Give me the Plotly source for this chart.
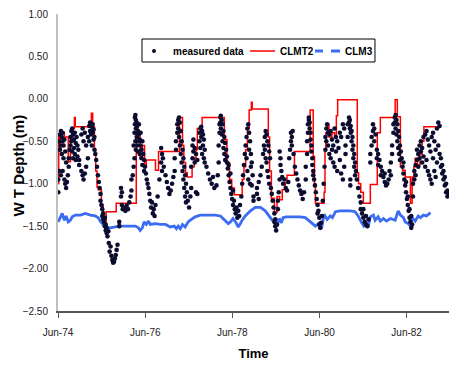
import plotly.graph_objects as go
from datetime import datetime

# ---------------- data (decimal year, water-table depth in m) ----------------
meas_1974_75 = [
    (1974.42, -1.10, -0.95), (1974.44, -0.85, -0.50), (1974.46, -0.42, -0.60),
    (1974.48, -0.38, -0.55, -0.90), (1974.50, -0.45, -0.65), (1974.52, -0.40, -0.50, -0.85),
    (1974.54, -0.55, -0.70), (1974.56, -0.48, -0.95), (1974.58, -0.62, -1.00),
    (1974.60, -0.75, -1.05), (1974.62, -0.98), (1974.64, -0.90), (1974.66, -0.70, -0.80),
    (1974.68, -0.60), (1974.70, -0.45, -0.55), (1974.72, -0.38, -0.50), (1974.74, -0.35, -0.62),
    (1974.76, -0.42, -0.70), (1974.78, -0.48, -0.58), (1974.80, -0.40, -0.65),
    (1974.82, -0.52, -0.72), (1974.84, -0.45), (1974.86, -0.55, -0.68), (1974.88, -0.60),
    (1974.90, -0.72, -0.78), (1974.95, -0.42, -0.85), (1974.98, -0.35, -0.90),
    (1975.00, -0.50, -0.95), (1975.03, -0.40, -0.88), (1975.06, -0.55, -0.80),
    (1975.10, -0.70, -0.45), (1975.13, -0.32, -0.50), (1975.15, -0.28, -0.38),
    (1975.17, -0.30, -0.42), (1975.19, -0.33, -0.55), (1975.21, -0.30, -0.40),
    (1975.23, -0.36, -0.48), (1975.25, -0.45, -0.60), (1975.27, -0.65), (1975.29, -0.72),
    (1975.31, -0.80), (1975.33, -0.90), (1975.35, -0.98), (1975.37, -1.05),
    (1975.39, -1.12, -1.20), (1975.41, -1.25), (1975.43, -1.30, -1.38), (1975.45, -1.35, -1.42),
    (1975.47, -1.45), (1975.49, -1.40, -1.50), (1975.51, -1.48, -1.55), (1975.53, -1.52, -1.58),
    (1975.55, -1.62), (1975.57, -1.56),
]
meas_1975_76 = [
    (1975.58, -1.70), (1975.60, -1.80), (1975.62, -1.74), (1975.64, -1.85), (1975.66, -1.90),
    (1975.68, -1.93), (1975.70, -1.92), (1975.72, -1.88), (1975.74, -1.84), (1975.76, -1.78),
    (1975.78, -1.72), (1975.82, -1.50, -1.45), (1975.86, -1.05, -1.15), (1975.88, -1.25, -1.10),
    (1975.90, -1.30), (1975.93, -1.28), (1975.96, -1.32), (1975.99, -1.26), (1976.02, -1.30),
    (1976.05, -1.22), (1976.08, -1.15), (1976.10, -1.08, -0.95), (1976.13, -0.90),
    (1976.15, -0.80, -0.55), (1976.17, -0.40, -0.70), (1976.18, -0.22, -0.30),
    (1976.19, -0.19, -0.50), (1976.20, -0.25, -0.35, -0.60), (1976.22, -0.28, -0.45),
    (1976.23, -0.32, -0.55, -0.40), (1976.25, -0.38, -0.62), (1976.27, -0.42, -0.50, -0.30),
    (1976.29, -0.48, -0.65), (1976.31, -0.55, -0.40), (1976.33, -0.60, -0.70),
    (1976.35, -0.50, -0.78), (1976.37, -0.65), (1976.39, -0.72, -0.85), (1976.41, -0.80),
    (1976.43, -0.88), (1976.45, -0.95), (1976.47, -1.00), (1976.49, -1.05), (1976.51, -1.12),
    (1976.53, -1.20), (1976.55, -1.28), (1976.57, -1.22), (1976.59, -1.35), (1976.61, -1.30),
    (1976.63, -1.38), (1976.65, -1.25),
]
meas_1976_77 = [
    (1976.70, -1.15), (1976.74, -0.95), (1976.78, -0.58, -0.75), (1976.80, -0.65, -0.85),
    (1976.82, -0.70), (1976.84, -0.80), (1976.88, -0.90), (1976.91, -0.98), (1976.94, -1.05),
    (1976.97, -1.12), (1977.00, -1.08), (1977.03, -1.00), (1977.06, -0.92),
    (1977.09, -0.85, -0.70), (1977.12, -0.60, -0.50), (1977.15, -0.40, -0.30),
    (1977.17, -0.25, -0.35), (1977.19, -0.22, -0.45), (1977.21, -0.28, -0.55),
    (1977.23, -0.38, -0.65), (1977.25, -0.50, -0.75), (1977.27, -0.60, -0.85),
    (1977.29, -0.70, -0.95), (1977.31, -0.80, -1.05), (1977.33, -0.90, -1.15),
    (1977.35, -1.00, -1.22), (1977.37, -1.10), (1977.39, -1.20), (1977.42, -1.28),
    (1977.45, -1.15), (1977.47, -0.80, -1.05), (1977.50, -0.55, -0.70), (1977.52, -0.48, -0.62),
    (1977.55, -0.58, -0.75), (1977.58, -0.65, -1.10), (1977.61, -0.72, -1.12),
]
meas_1977_78 = [
    (1977.66, -0.40, -0.50), (1977.68, -0.35, -0.58), (1977.70, -0.33, -0.45),
    (1977.72, -0.38, -0.65), (1977.74, -0.42, -0.55), (1977.76, -0.48, -0.70),
    (1977.78, -0.60, -0.75), (1977.82, -0.80), (1977.86, -0.88), (1977.90, -0.95),
    (1977.94, -1.00), (1977.97, -0.92), (1978.00, -1.05), (1978.05, -1.02), (1978.08, -0.90),
    (1978.10, -0.75, -0.55), (1978.12, -0.40, -0.30), (1978.14, -0.22, -0.28),
    (1978.15, -0.20, -0.35), (1978.17, -0.25, -0.42), (1978.19, -0.30, -0.50),
    (1978.21, -0.38, -0.58), (1978.23, -0.45, -0.65), (1978.25, -0.52, -0.72), (1978.27, -0.60),
    (1978.29, -0.75, -0.68), (1978.31, -0.82), (1978.33, -0.90, -0.78), (1978.35, -0.98),
    (1978.37, -1.05, -0.88), (1978.39, -1.12), (1978.41, -1.18), (1978.43, -1.25, -1.08),
    (1978.45, -1.20), (1978.47, -1.30), (1978.49, -1.35), (1978.51, -1.28), (1978.53, -1.40),
    (1978.55, -1.32), (1978.57, -1.38), (1978.59, -1.25), (1978.62, -1.15), (1978.64, -1.00),
    (1978.66, -0.90), (1978.68, -0.78), (1978.70, -0.65), (1978.72, -0.55),
    (1978.74, -0.45, -0.70), (1978.76, -0.35, -0.85), (1978.78, -0.30, -0.95),
    (1978.80, -0.40, -0.60), (1978.82, -0.50, -1.00), (1978.84, -0.65, -0.80),
    (1978.86, -0.75, -1.02), (1978.88, -0.90), (1978.90, -1.15, -1.20),
    (1978.98, -1.05, -1.12), (1979.02, -1.18, -0.98),
]
meas_1979_80 = [
    (1979.06, -0.90), (1979.09, -0.80), (1979.12, -0.65), (1979.14, -0.55),
    (1979.16, -0.45, -0.60), (1979.18, -0.38, -0.70), (1979.20, -0.42, -0.75),
    (1979.22, -0.50, -0.85), (1979.24, -0.55, -0.92), (1979.26, -0.62, -1.00), (1979.28, -0.70),
    (1979.30, -1.05), (1979.32, -1.12), (1979.34, -1.20), (1979.36, -1.28),
    (1979.38, -1.35, -1.45), (1979.40, -1.50, -1.42), (1979.42, -1.55), (1979.44, -1.48),
    (1979.46, -1.30, -1.20), (1979.48, -1.10), (1979.50, -0.95, -0.62), (1979.52, -0.70, -0.78),
    (1979.54, -0.85), (1979.56, -0.92), (1979.58, -1.00), (1979.61, -0.95), (1979.64, -1.05),
    (1979.67, -1.08), (1979.70, -0.98), (1979.72, -0.70), (1979.74, -0.60),
    (1979.76, -0.50, -0.40), (1979.78, -0.45, -0.55), (1979.80, -0.38), (1979.82, -0.65),
    (1979.85, -0.80), (1979.88, -0.88), (1979.91, -0.95), (1979.94, -1.02), (1979.97, -1.08),
    (1980.00, -1.12), (1980.03, -1.18), (1980.06, -1.10),
]
meas_1980_81 = [
    (1980.10, -0.95, -0.80), (1980.13, -0.65, -0.50), (1980.15, -0.40, -0.30),
    (1980.17, -0.25, -0.22), (1980.19, -0.28, -0.35), (1980.21, -0.40, -0.48),
    (1980.23, -0.55, -0.62), (1980.25, -0.70, -0.78), (1980.27, -0.85, -0.90), (1980.29, -0.95),
    (1980.31, -1.02), (1980.33, -1.10), (1980.35, -1.18), (1980.37, -1.25, -1.35),
    (1980.39, -1.32), (1980.41, -1.40, -1.48), (1980.43, -1.52), (1980.45, -1.46),
    (1980.47, -1.38), (1980.49, -1.20), (1980.51, -1.00), (1980.53, -0.80),
    (1980.55, -0.60, -0.45), (1980.57, -0.35, -0.50), (1980.59, -0.30), (1980.61, -0.40, -0.55),
    (1980.64, -0.42, -0.65), (1980.67, -0.38, -0.70), (1980.70, -0.48, -0.60),
    (1980.73, -0.55, -0.75), (1980.76, -0.35, -0.80), (1980.79, -0.45, -0.62),
    (1980.82, -0.50, -0.85), (1980.85, -0.58), (1980.88, -0.40, -0.72), (1980.91, -0.45, -0.88),
    (1980.95, -0.30, -0.95), (1980.98, -0.35, -0.80), (1981.01, -0.55, -0.65),
    (1981.06, -0.30, -0.45), (1981.09, -0.22, -0.28), (1981.11, -0.25, -0.35),
    (1981.12, -0.95, -1.02), (1981.13, -0.32, -0.40), (1981.15, -0.38, -0.50),
    (1981.17, -0.45, -0.60), (1981.19, -0.55, -0.70), (1981.21, -0.65, -0.80),
    (1981.23, -0.75, -0.90), (1981.25, -0.85), (1981.27, -0.95), (1981.30, -1.05),
    (1981.33, -1.15), (1981.36, -1.22, -1.30), (1981.39, -1.35), (1981.42, -1.40, -1.30),
    (1981.45, -1.45), (1981.48, -1.48, -1.38), (1981.51, -1.50), (1981.54, -1.42),
]
meas_1981_83 = [
    (1981.58, -0.75, -0.65), (1981.61, -0.55, -0.45), (1981.64, -0.38, -0.30),
    (1981.67, -0.35, -0.50), (1981.70, -0.42), (1981.73, -0.60, -0.70), (1981.76, -0.65, -0.78),
    (1981.79, -0.72), (1981.82, -0.80, -0.90), (1981.85, -0.85), (1981.88, -0.92),
    (1981.91, -0.98, -0.88), (1981.94, -1.02), (1981.97, -1.00), (1982.00, -0.95),
    (1982.02, -0.85), (1982.05, -0.75, -0.90), (1982.08, -0.55, -0.65), (1982.11, -0.40, -0.30),
    (1982.14, -0.22, -0.28), (1982.16, -0.19, -0.35), (1982.18, -0.25, -0.42),
    (1982.20, -0.30, -0.50), (1982.22, -0.38, -0.58), (1982.24, -0.45, -0.65),
    (1982.26, -0.55, -0.72), (1982.28, -0.62), (1982.30, -0.70), (1982.32, -0.80),
    (1982.34, -0.88, -0.75), (1982.36, -0.95), (1982.38, -1.02), (1982.40, -1.10, -0.98),
    (1982.42, -1.18), (1982.44, -1.25, -1.15), (1982.46, -1.32), (1982.48, -1.40, -1.30),
    (1982.50, -1.45), (1982.52, -1.52, -1.38), (1982.54, -1.48), (1982.56, -1.15, -1.00),
    (1982.59, -0.95, -0.85), (1982.62, -0.78, -0.90), (1982.65, -0.72, -0.60),
    (1982.68, -0.65, -0.80), (1982.71, -0.55, -0.70), (1982.74, -0.50, -0.62),
    (1982.77, -0.58, -0.75), (1982.80, -0.45, -0.68), (1982.84, -0.42, -0.80),
    (1982.87, -0.38, -0.72), (1982.90, -0.48, -0.85), (1982.93, -0.55, -0.90),
    (1982.96, -0.62, -0.95), (1982.99, -0.45, -1.00), (1983.02, -0.40, -0.70),
    (1983.05, -0.50, -0.85), (1983.08, -0.60, -0.92), (1983.11, -0.35, -0.75),
    (1983.14, -0.28, -0.55), (1983.17, -0.32, -0.65), (1983.20, -0.70, -0.80),
    (1983.23, -0.78, -0.88), (1983.26, -0.85, -0.95), (1983.29, -0.92, -1.02),
    (1983.32, -1.00, -1.10), (1983.35, -1.08, -1.15), (1983.38, -1.12),
]

clmt2_t = [1974.42, 1974.43, 1974.45, 1974.47, 1974.56, 1974.65, 1974.70, 1974.76, 1974.79,
           1974.81, 1975.18, 1975.21, 1975.25, 1975.28, 1975.31, 1975.34, 1975.41, 1975.45,
           1975.48, 1975.52, 1975.75, 1976.21, 1976.25, 1976.30, 1976.35, 1976.40, 1976.44,
           1976.65, 1976.72, 1977.20, 1977.27, 1977.30, 1977.34, 1977.38, 1977.49, 1977.54,
           1977.58, 1977.61, 1977.72, 1978.23, 1978.29, 1978.35, 1978.40, 1978.46, 1978.64,
           1978.68, 1978.72, 1978.76, 1978.80, 1978.85, 1978.87, 1979.24, 1979.27, 1979.31,
           1979.38, 1979.44, 1979.50, 1979.56, 1979.63, 1979.67, 1979.84, 1980.20, 1980.27,
           1980.30, 1980.32, 1980.52, 1980.54, 1980.56, 1980.60, 1980.63, 1980.70, 1980.76,
           1980.80, 1980.83, 1981.28, 1981.31, 1981.36, 1981.42, 1981.58, 1981.74, 1981.81,
           1982.15, 1982.20, 1982.27, 1982.32, 1982.38, 1982.50, 1982.54, 1982.58, 1982.61,
           1982.66, 1982.72, 1982.77, 1982.81, 1983.14]
clmt2_v = [-1.00, -0.42, -0.60, -0.40, -0.45, -0.74, -0.45, -0.35, -0.22,
           -0.33, -0.17, -0.33, -0.60, -0.85, -1.04, -1.07, -1.25, -1.40,
           -1.45, -1.33, -1.23, -0.27, -0.45, -0.70, -0.55, -0.80, -0.72,
           -0.84, -0.62, -0.22, -0.55, -0.75, -0.87, -0.92, -0.80, -0.70,
           -0.60, -0.35, -0.22, -0.48, -0.75, -0.95, -1.05, -1.13, -0.95,
           -0.80, -0.60, -0.35, -0.13, -0.04, -0.12, -0.45, -0.85, -1.17,
           -1.34, -1.15, -1.19, -1.07, -0.99, -0.90, -0.62, -0.13, -0.68,
           -1.00, -1.23, -1.10, -0.60, -0.40, -0.30, -0.45, -0.40, -0.45,
           -0.20, -0.01, -0.87, -1.00, -1.10, -1.23, -1.01, -0.40, -0.22,
           -0.01, -0.21, -0.80, -0.84, -0.92, -1.23, -0.92, -0.80, -0.70,
           -0.78, -0.65, -0.50, -0.33, -0.32]

clm3_t = [1974.42, 1974.47, 1974.51, 1974.56, 1974.60, 1974.65, 1974.70, 1974.74, 1974.81,
          1974.93, 1975.04, 1975.16, 1975.27, 1975.34, 1975.38, 1975.43, 1975.48, 1975.52,
          1975.61, 1975.73, 1975.84, 1975.96, 1976.07, 1976.19, 1976.26, 1976.30, 1976.35,
          1976.39, 1976.44, 1976.49, 1976.53, 1976.65, 1976.76, 1976.88, 1976.99, 1977.08,
          1977.13, 1977.17, 1977.22, 1977.27, 1977.33, 1977.40, 1977.45, 1977.56, 1977.68,
          1977.79, 1977.91, 1978.02, 1978.14, 1978.25, 1978.32, 1978.37, 1978.43, 1978.50,
          1978.55, 1978.60, 1978.64, 1978.71, 1978.83, 1978.94, 1979.06, 1979.17, 1979.24,
          1979.33, 1979.40, 1979.44, 1979.49, 1979.54, 1979.58, 1979.65, 1979.74, 1979.86,
          1979.97, 1980.09, 1980.16, 1980.25, 1980.32, 1980.39, 1980.46, 1980.52, 1980.59,
          1980.66, 1980.71, 1980.78, 1980.89, 1981.00, 1981.12, 1981.23, 1981.30, 1981.37,
          1981.43, 1981.49, 1981.53, 1981.58, 1981.65, 1981.69, 1981.76, 1981.81, 1981.88,
          1981.95, 1982.04, 1982.15, 1982.22, 1982.27, 1982.34, 1982.38, 1982.45, 1982.50,
          1982.54, 1982.61, 1982.68, 1982.73, 1982.80, 1982.87, 1982.96]
clm3_v = [-1.45, -1.40, -1.35, -1.43, -1.38, -1.45, -1.43, -1.39, -1.37,
          -1.37, -1.35, -1.37, -1.38, -1.40, -1.44, -1.47, -1.51, -1.52,
          -1.52, -1.51, -1.50, -1.50, -1.50, -1.50, -1.52, -1.55, -1.52,
          -1.45, -1.48, -1.44, -1.48, -1.47, -1.48, -1.48, -1.51, -1.50,
          -1.53, -1.50, -1.53, -1.48, -1.51, -1.45, -1.43, -1.39, -1.37,
          -1.37, -1.37, -1.37, -1.38, -1.44, -1.47, -1.45, -1.41, -1.46,
          -1.51, -1.47, -1.43, -1.38, -1.32, -1.28, -1.28, -1.32, -1.37,
          -1.43, -1.46, -1.50, -1.41, -1.46, -1.40, -1.39, -1.39, -1.39,
          -1.39, -1.40, -1.43, -1.46, -1.50, -1.47, -1.53, -1.36, -1.42,
          -1.38, -1.40, -1.33, -1.32, -1.32, -1.32, -1.33, -1.38, -1.45,
          -1.50, -1.46, -1.51, -1.39, -1.37, -1.43, -1.39, -1.44, -1.41,
          -1.44, -1.41, -1.43, -1.32, -1.37, -1.40, -1.45, -1.47, -1.50,
          -1.40, -1.44, -1.38, -1.40, -1.37, -1.38, -1.34]

tick_years = [1974, 1976, 1978, 1980, 1982]
x_start = "1974-06-01"
x_end = "1983-05-22"
series_names = ["measured data", "CLMT2", "CLM3"]

MEAS_COLOR = "#0c0c30"
RED = "#ff0000"
BLUE = "#3b6cf2"
FONT = "Arial, 'Liberation Sans', sans-serif"


def to_date(t):
    y = int(t)
    a, b = datetime(y, 1, 1), datetime(y + 1, 1, 1)
    return a + (b - a) * (t - y)


meas_x, meas_y = [], []
for block in (meas_1974_75, meas_1975_76, meas_1976_77, meas_1977_78,
              meas_1979_80, meas_1980_81, meas_1981_83):
    for row in block:
        for v in row[1:]:
            meas_x.append(to_date(row[0]))
            meas_y.append(v)

fig = go.Figure()
fig.add_trace(go.Scatter(
    x=[to_date(t) for t in clm3_t], y=clm3_v, mode="lines", name=series_names[2],
    line=dict(color=BLUE, width=2.8), showlegend=False))
fig.add_trace(go.Scatter(
    x=[to_date(t) for t in clmt2_t], y=clmt2_v, mode="lines", name=series_names[1],
    line=dict(color=RED, width=1.5, shape="hv"), showlegend=False))
fig.add_trace(go.Scatter(
    x=meas_x, y=meas_y, mode="markers", name=series_names[0],
    marker=dict(color=MEAS_COLOR, size=4.6, line=dict(width=0)), showlegend=False))

# ---- legend box drawn by hand (paper coordinates) ----
ly = 0.8754
shapes = [
    dict(type="rect", xref="paper", yref="paper", x0=0.2148, x1=0.8107, y0=0.8384, y1=0.9158,
         line=dict(color="black", width=1), fillcolor="white", layer="above"),
    dict(type="circle", xref="paper", yref="paper", x0=0.2404, x1=0.2506,
         y0=ly - 0.0070, y1=ly + 0.0070, line=dict(width=0), fillcolor=MEAS_COLOR, layer="above"),
    dict(type="line", xref="paper", yref="paper", x0=0.4910, x1=0.5550, y0=ly, y1=ly,
         line=dict(color=RED, width=1.5), layer="above"),
    dict(type="line", xref="paper", yref="paper", x0=0.6573, x1=0.6777, y0=ly, y1=ly,
         line=dict(color=BLUE, width=3), layer="above"),
    dict(type="line", xref="paper", yref="paper", x0=0.6982, x1=0.7212, y0=ly, y1=ly,
         line=dict(color=BLUE, width=3), layer="above"),
]
legend_font = dict(family=FONT, size=10, color="black", weight="bold")
annotations = [
    dict(text=series_names[0], x=0.2890, y=ly, xref="paper", yref="paper",
         xanchor="left", yanchor="middle", showarrow=False, font=legend_font),
    dict(text=series_names[1], x=0.5630, y=ly, xref="paper", yref="paper",
         xanchor="left", yanchor="middle", showarrow=False, font=legend_font),
    dict(text=series_names[2], x=0.7290, y=ly, xref="paper", yref="paper",
         xanchor="left", yanchor="middle", showarrow=False, font=legend_font),
    dict(text="<b>W T Depth (m)</b>", x=-0.1023, y=0.49, xref="paper", yref="paper",
         xanchor="center", yanchor="middle", textangle=-90, showarrow=False,
         font=dict(family=FONT, size=15, color="black")),
]

fig.update_layout(
    width=450, height=365,
    margin=dict(l=58, r=1, t=14, b=54),
    paper_bgcolor="white", plot_bgcolor="white",
    font=dict(family=FONT, size=10, color="#222"),
    showlegend=False,
    shapes=shapes, annotations=annotations,
    xaxis=dict(type="date", range=[x_start, x_end],
               tickvals=[datetime(y, 6, 1) for y in tick_years], tickformat="%b-%y",
               showgrid=False, zeroline=False, showline=True, linecolor="#555555",
               linewidth=1.5, ticks="outside", ticklen=5, tickcolor="#555555",
               ticklabelstandoff=6,
               title=dict(text="<b>Time</b>", font=dict(size=13, color="black"), standoff=12)),
    yaxis=dict(range=[-2.5, 1.0], dtick=0.5, tickformat=".2f",
               showgrid=False, zeroline=False, showline=True, linecolor="#c0c0c0",
               linewidth=2, ticks="", ticklabelstandoff=6),
)

fig.write_html("out.html")
